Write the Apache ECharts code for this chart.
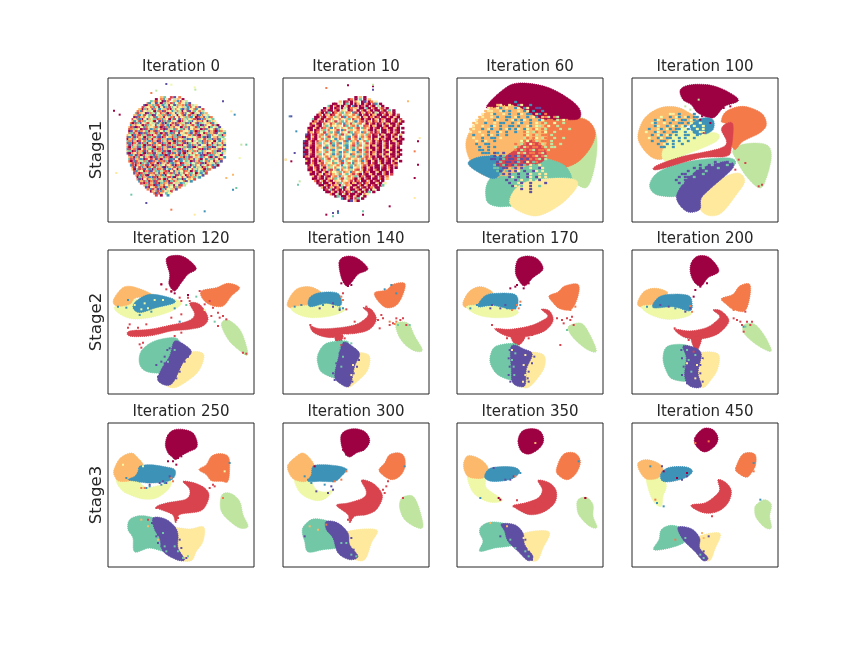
<!DOCTYPE html>
<html><head><meta charset="utf-8">
<style>html,body{margin:0;background:#fff}#c{width:864px;height:648px}</style>
<script src="https://cdn.jsdelivr.net/npm/echarts@6/dist/echarts.min.js"></script></head>
<body><div id="c"></div>
<script>
// Class index order: 0 crimson,1 red,2 orange,3 light orange,4 yellow,5 pale,6 light green,7 teal,8 blue,9 purple
const classColors=['#9e0142','#d8434e','#f57a49','#fdb96b','#fee99d','#eef8a6','#bfe5a0','#72c7a7','#3d92b8','#5e4fa2'];
const panelTitles=['Iteration 0','Iteration 10','Iteration 60','Iteration 100','Iteration 120','Iteration 140','Iteration 170','Iteration 200','Iteration 250','Iteration 300','Iteration 350','Iteration 450'];
const stageLabels=['Stage1','Stage2','Stage3'];

// Blob outlines: [class, x,y, x,y, ...]
const iter0Blobs=[];
const iter10Blobs=[];
const iter60Blobs=[
[6,363,120,413,155,418,235,393,325,353,315,318,285,298,195],
[2,235,135,368,120,413,155,403,205,358,255,298,270,240,240],
[7,88,365,100,300,200,240,320,260,340,340,228,395,168,385,118,385],
[4,158,375,198,315,318,300,363,315,328,365,268,405,218,412],
[3,28,185,68,120,128,80,198,80,260,125,260,215,160,290,78,290,38,245],
[0,88,90,138,35,188,15,278,30,358,80,368,120,318,125,248,120,168,80],
[8,33,255,78,235,148,245,118,300,68,285],
[1,118,255,168,220,228,185,268,225,248,255,168,265,128,265]];
const iter100Blobs=[
[6,303,215,343,197,403,200,418,235,403,300,383,330,343,295,313,245],
[2,268,130,283,100,333,85,388,105,403,140,383,165,333,190,308,215,293,185,283,140],
[0,145,35,178,20,243,23,303,50,318,70,278,85,243,120,198,105,178,80,153,65],
[3,18,170,38,120,83,90,133,87,173,105,198,125,153,155,103,235,63,240,28,205],
[5,93,215,143,150,183,165,253,165,253,190,173,225,103,250],
[8,178,140,213,120,243,125,243,155,213,170,183,165],
[7,53,320,83,280,173,250,293,240,303,265,213,290,143,335,133,355,73,350],
[4,213,355,263,305,318,285,338,310,313,350,268,405,228,412,203,390],
[9,133,355,173,295,223,265,288,250,303,270,243,325,208,360,203,395,163,400],
[1,73,263,153,235,278,205,268,155,283,137,303,140,298,210,283,235,203,240,78,275]];
const iter120Blobs=[
[0,175,26,210,16,240,28,265,56,240,73,220,98,200,123,183,103,185,73],
[5,23,168,85,148,170,143,220,158,190,183,125,203,70,206,30,188],
[3,17,148,50,110,100,118,145,143,85,143,65,163,25,168],
[8,85,153,125,133,185,143,200,158,145,173,95,188,75,173],
[2,280,123,325,113,360,100,395,113,370,138,345,168,310,166,285,148],
[1,245,160,275,163,300,203,285,228,245,238,190,243,135,256,85,260,60,256,65,243,125,238,185,226,240,213,260,193],
[6,340,223,360,210,395,238,415,288,417,316,390,298,360,268],
[7,100,303,140,273,200,263,215,283,205,323,180,365,120,366,95,343],
[4,250,306,287,313,275,358,245,388,200,413,170,400,195,358,210,333],
[9,200,273,235,288,250,308,225,338,190,403,150,393,160,358,185,318]];
const iter140Blobs=[
[0,168,38,185,20,220,23,255,56,225,73,205,98,190,108,175,83],
[3,15,153,40,118,80,110,115,128,90,143,75,173,20,173],
[5,25,173,80,165,130,155,185,178,150,196,90,203,45,193],
[8,80,143,110,128,160,128,175,148,170,168,130,160,80,170],
[2,275,128,310,120,330,103,365,100,360,133,340,166,310,173,285,153],
[1,240,173,265,178,280,208,260,238,220,250,175,253,140,263,95,250,82,228,110,236,170,233,220,223,250,203,255,188],
[1,155,255,180,255,172,280,162,280],
[6,340,220,375,220,395,258,418,300,395,303,365,283,345,253],
[7,105,313,130,280,190,273,195,288,185,328,175,385,120,370,105,343],
[4,215,310,258,316,255,358,230,388,195,412,185,378,200,348],
[9,180,278,210,290,230,313,215,348,200,408,170,400,155,378,165,328]];
const iter170Blobs=[
[0,183,28,213,18,243,28,258,58,228,83,203,108,183,88,175,63],
[3,18,158,38,123,73,110,108,128,83,138,68,168,28,173],
[5,28,170,68,165,128,165,183,183,163,200,108,203,58,193],
[8,83,138,118,130,173,133,183,158,168,178,108,166,63,170],
[2,276,138,303,126,323,108,363,103,363,138,343,178,308,176,288,158],
[1,253,178,278,183,288,213,263,243,218,258,178,263,143,256,113,236,158,238,218,228,253,213,273,198],
[1,163,256,203,258,190,283,173,283],
[6,336,228,373,220,398,253,418,303,393,300,358,273,338,248],
[7,100,318,118,288,180,283,185,323,180,388,128,378,103,348],
[4,205,310,258,313,263,348,243,383,213,413,190,403,192,358],
[9,163,288,203,298,226,313,208,358,203,408,168,400,163,358]];
const iter200Blobs=[
[0,178,38,198,18,233,23,261,63,228,83,208,108,188,98,175,68],
[3,18,153,38,123,73,115,108,128,83,143,63,170,23,170],
[5,28,170,63,165,123,165,178,188,153,203,103,208,53,193],
[8,78,143,113,133,168,136,180,158,173,183,123,170,63,173],
[2,268,146,303,133,323,108,353,103,353,143,338,183,303,178,283,163],
[1,243,180,268,183,291,213,263,248,228,263,188,268,153,260,128,238,173,243,223,233,253,213,263,198],
[1,178,263,208,263,198,298,188,298],
[6,338,223,368,223,398,258,418,303,388,293,353,268,333,243],
[7,93,323,108,288,165,286,180,318,175,388,123,388,103,363],
[4,190,313,256,310,258,353,238,388,210,413,183,368],
[9,153,288,188,293,208,313,198,368,208,410,173,408,158,378,163,323]];
const iter250Blobs=[
[0,180,35,200,20,230,20,255,30,267,55,265,75,245,85,220,98,203,110,190,100,180,90,172,65],
[5,25,170,60,165,85,170,115,193,160,185,190,175,180,200,145,225,105,228,65,215,40,200],
[3,37,105,70,90,90,105,105,125,93,145,75,170,35,175,20,160,18,140],
[8,95,130,125,125,175,132,200,140,200,160,180,175,125,180,85,175,60,170,80,160,90,145],
[2,273,140,295,125,310,100,335,92,360,100,365,130,360,175,340,175,310,173,295,155],
[1,225,175,260,180,290,195,303,215,295,245,275,265,225,272,210,280,203,300,197,280,185,270,145,253,175,240,230,230,245,215,243,195],
[6,345,212,370,212,395,235,405,275,420,310,395,315,360,290,340,265,337,235],
[7,65,290,100,278,150,290,160,320,175,345,175,385,125,375,80,387,75,345,60,320],
[4,195,315,245,318,287,312,285,355,265,385,250,413,215,410,195,375,190,345],
[9,135,285,170,287,200,310,210,335,210,375,230,410,205,410,165,385,155,345,140,320]];
const iter300Blobs=[
[0,175,35,195,20,225,18,250,30,260,55,245,80,220,90,200,102,185,90,175,65],
[5,35,165,75,165,100,200,130,207,153,197,130,225,100,233,65,220,45,200],
[3,15,125,40,100,60,90,80,105,95,130,90,150,70,175,35,170,18,150],
[8,90,130,120,125,170,130,190,140,175,160,155,175,110,175,75,175,85,155],
[2,288,140,305,120,320,95,350,90,365,105,365,135,350,160,325,170,300,157],
[1,235,172,265,178,290,200,298,225,280,260,250,275,215,280,200,300,195,275,160,247,195,240,240,225,250,205],
[6,365,220,390,220,408,255,420,310,400,313,365,290,350,255,353,230],
[7,62,310,90,288,135,295,145,320,165,345,170,372,120,380,75,387,65,355,58,330],
[4,190,327,280,320,265,360,245,410,210,405,185,365],
[9,130,295,165,300,195,330,200,365,225,400,200,410,165,390,150,345,130,320]];
const iter350Blobs=[
[0,183,55,193,27,218,17,248,23,260,50,248,75,218,93,193,85],
[5,33,155,83,160,88,195,136,230,103,238,68,225,43,200],
[3,20,120,33,98,63,105,88,125,93,145,78,165,38,163,23,145],
[8,93,140,118,132,168,132,188,145,173,163,143,173,103,175,83,163],
[2,298,140,318,95,353,90,370,115,358,150,333,170,308,160],
[1,243,172,278,180,298,205,293,240,258,268,218,275,183,260,170,247,203,240,243,225,256,200],
[6,363,230,388,223,408,245,408,280,420,313,398,310,368,280,360,255],
[7,73,310,103,297,150,305,160,335,170,365,113,375,68,385,78,355,68,330],
[4,193,335,243,323,278,330,258,375,240,413,208,405,188,370],
[9,133,303,173,305,198,330,203,365,228,400,213,413,183,385,153,355,143,325]];
const iter450Blobs=[
[0,188,45,213,17,243,20,258,45,248,70,218,87,193,70],
[5,43,155,78,160,103,185,93,220,88,250,68,240,51,205],
[3,18,120,43,110,78,120,93,140,78,165,43,168,23,145],
[8,93,143,118,132,163,132,181,145,163,163,123,175,93,175,85,160],
[2,311,135,333,93,368,93,371,125,358,150,343,163,318,150],
[1,258,170,283,180,298,205,288,240,258,265,218,270,183,255,180,245,218,240,248,220,263,200],
[6,373,245,398,230,418,245,413,280,418,315,398,313,373,285,368,260],
[7,88,320,118,307,155,320,160,355,113,375,65,380,81,350],
[4,188,345,263,330,248,380,233,413,205,405,188,375],
[9,138,313,178,317,203,345,203,375,228,405,213,413,188,385,153,350]];

// Individual points: [class, x,y, x,y, ...] estimated by eye
const iter0Specks=[
[0,18,98,35,110],[2,190,395,130,45],[3,355,300,375,290],[4,260,410,370,100,25,285],[5,260,28,190,20,395,240],
[6,145,38,262,35,400,200],[7,70,350,415,200,385,330],[8,375,335,290,400,380,110],[9,175,18,115,375,345,70]];
const iter10Specks=[
[0,405,190,25,250,195,22,270,25,405,260,395,300,240,410,130,410,320,385],
[2,130,30,395,220],[3,8,245,375,70],[4,395,360,8,245,410,180],[7,240,400,45,320,150,415],[8,20,115,40,160,165,405],[9,25,115,35,225,165,400,270,35,150,405],[6,50,310,270,20]];
const iter60Specks=[];
const iter100Specks=[
[1,380,325,390,320,320,245,340,255,310,275,215,165],
[0,235,135,258,95,275,90,295,85,205,125,210,115],
[6,200,65,160,85,175,95,345,280,360,305]];
const iter120Specks=[
[1,160,103,175,118,190,123,215,143,240,143,245,153,220,153,275,123,305,153,290,163,315,173,330,188,310,198,335,203,345,198,330,228,355,208,220,193,190,203,115,223,90,233,65,223,60,233,85,243,130,248,200,258,220,248,105,278,95,283,100,293,405,308,415,311],
[8,55,173,95,195,60,150,120,150,100,165,130,185,160,165,200,175,135,165,30,170,215,215],
[5,110,160,120,175,100,178,140,150,165,150,80,165,290,180],
[7,150,330,155,300,130,320,235,165,265,140,320,215,200,300,180,335],
[9,170,320,160,335,145,345,185,295,178,300,170,340,160,370,150,380,240,320,230,335,215,365,205,385],
[4,235,345,222,370,205,395],
[0,190,125,160,103,200,130,240,135]];
const iter140Specks=[
[1,180,130,190,178,250,170,215,215,295,195,300,205,285,210,340,205,352,210,360,205,370,225,330,220,290,235,320,225,82,225,160,270,150,260,195,250,185,265,175,285],
[8,35,170,55,165,90,165,120,165,140,155,170,175,180,175,325,105,305,118,340,130],
[9,150,160,170,180,150,170,110,175,172,295,170,310,160,340,150,370,155,390,228,330,222,350,212,370,208,395],
[2,175,140,180,150,335,222,320,215,340,215],
[7,150,310,170,295,155,330,205,280,380,225,345,225,180,320,175,350],
[4,210,345,205,375],
[0,195,108,185,95,205,105,175,100]];
const iter170Specks=[
[1,105,225,150,265,215,265,220,230,225,255,330,205,315,210,320,220,300,205,345,200,340,210,350,225,310,285],
[8,40,175,60,165,95,165,150,175,170,155,175,175,190,165],
[9,105,165,130,175,145,165,100,175,158,300,155,325,158,350,155,375,160,395,232,320,225,340,215,365,212,385,215,395],
[2,185,175,180,165,165,180,190,155,310,170,340,180,355,170],
[7,165,330,150,310,135,320,170,350,145,360,330,240,175,310,172,375],
[0,180,105,200,115,215,100,160,115,175,110],
[4,165,300,200,345,205,315,205,375,198,395]];
const iter200Specks=[
[1,128,235,170,270,185,305,340,185,315,210,325,215,305,205,345,215,330,225,360,215,355,225,335,245],
[8,45,170,75,160,95,165,130,175,165,170,178,170,150,165,335,230],
[9,85,165,110,170,160,185,175,175,148,300,150,325,155,350,150,375,165,400,212,325,205,345,205,370,212,395],
[2,175,168,180,185,305,180,315,175],
[7,130,325,150,340,145,310,165,300,190,315,340,230,170,330,178,365],
[0,190,120,205,110,185,140,225,100,245,65],
[4,165,340,195,345,210,330,190,385]];
const iter250Specks=[
[0,180,115,195,115,210,105,220,100,205,125],
[1,315,185,305,195,320,190,145,255,205,290,210,285,345,225,120,290],
[8,115,195,125,190,160,185,170,180,55,165,95,175,150,175,365,120],
[9,165,175,175,180,155,180,185,160,125,185,145,340,150,360,185,390,132,300,150,335,215,350,220,375,235,405,160,370],
[2,195,175,190,165,110,195,100,195,345,225],
[7,200,370,210,385,225,405,240,400,130,345,170,370,165,330,175,385],
[5,45,125,350,145,105,130],
[3,150,350,100,290,120,310]];
const iter300Specks=[
[1,310,190,300,200,315,175,305,210,200,285,195,290,360,225],
[8,75,170,85,180,65,160,125,185,150,175,190,140,365,130],
[9,100,205,135,210,150,200,145,190,65,340,150,310,190,380,210,400,140,320,160,365,205,345,212,380],
[7,220,400,205,395,175,360,190,360],
[2,190,145,155,175,130,305,175,170],
[0,180,80,190,95,95,130],
[3,105,320,80,310]];
const iter350Specks=[
[1,180,232,170,250,235,250,205,255],
[8,120,135,150,140,70,225,365,115,190,150],
[9,145,170,160,170,170,160,110,135,130,340,150,310,225,410,190,375,150,340,205,350,215,385],
[7,215,400,205,385,160,350,175,375],
[2,175,160,325,160,330,165,100,300,385,225],
[0,125,225,130,230,385,225],
[4,215,380,200,345],
[3,150,310,100,300,235,60]];
const iter450Specks=[
[1,240,280,225,260,195,250],
[8,55,130,150,135,365,120,385,230,95,250,75,240],
[9,135,165,165,160,150,170,90,130,150,320,230,340,215,385],
[7,215,405,205,395,160,345,140,340],
[2,70,230,190,60,230,55,130,350,365,145],
[0,135,165,165,150,95,145],
[3,215,345,210,330]];

// Hand-estimated class mosaics for the mixed clouds; each character is a class, space = empty.
const iter0Mosaic=[
"                     3 7   1 9  2",
"                  0  2 84 1  6 3  0",
"               7 31 5 09 2  53 8 14 6",
"             28 4 9 60 7 3 1 85 2 4 7 9",
"           90 3 7 21 48 6 05 9 73 2 8 1 6 4",
"          1 35 2 86 04 97 1 75 24 36 8 15 2 9",
"        3 07 14 92 48 63 1 06 25 79 38 4 28 5 1",
"       2 815 36 50 72 91 34 86 26 04 19 37 52 6",
"      71 34 09 26 85 13 70 24 96 31 85 20 64 97 3",
"     3 28 61 47 09 53 72 18 34 05 29 61 73 08 24 6",
"     09 13 25 74 18 63 04 62 95 14 37 28 50 13 96 82",
"    14 28 05 93 67 12 83 50 71 59 26 74 31 09 82 65 7",
"    38 61 27 46 30 59 17 28 34 80 16 47 95 23 15 07 34",
"   20 17 94 31 56 28 39 07 41 92 36 18 05 29 76 43 18 5",
"   83 24 40 17 35 96 21 68 03 19 52 74 31 68 09 25 41 70",
"  31 90 15 82 64 31 70 92 83 14 40 72 95 31 86 25 07 46 9",
"  12 73 50 91 38 27 41 09 36 82 57 16 94 23 60 18 35 29 74",
"  09 31 82 47 03 19 25 86 30 17 92 45 38 20 16 74 93 10 82 6",
"  27 13 09 18 26 31 70 29 38 15 04 62 79 31 85 02 73 19 46 8",
" 35 08 21 73 91 04 28 31 96 27 08 35 42 71 90 36 18 25 47 03",
" 18 29 13 60 27 31 89 02 53 17 82 09 34 65 21 79 08 43 16 7",
" 03 17 42 81 93 06 21 73 98 02 14 37 98 05 26 41 37 92 18 56",
" 72 93 01 52 78 13 09 26 13 70 82 91 35 06 47 92 13 50 68 24",
" 18 02 39 17 04 28 31 97 20 31 86 29 07 34 16 82 95 03 74 16",
" 39 16 27 30 81 92 35 01 82 73 91 04 28 17 39 54 02 86 17 39",
" 20 73 18 29 36 10 72 83 19 02 56 37 18 90 25 37 18 09 64 25",
" 81 32 90 41 37 82 01 93 26 78 10 93 57 24 61 08 92 43 71 08",
" 37 01 83 29 15 07 32 81 90 73 28 19 03 72 16 83 45 27 09 36",
" 90 24 13 70 82 19 36 02 79 18 39 20 74 16 58 93 01 27 35 84",
"  18 39 20 16 37 92 78 10 93 42 07 13 86 52 39 01 78 24 60",
"  32 07 15 93 20 81 73 92 10 38 62 07 91 43 68 25 10 79 35 8",
"  71 93 28 01 41 39 20 73 18 95 08 27 13 96 20 48 37 15 02",
"  20 81 36 27 09 13 82 17 09 31 28 47 60 93 17 52 84 03 69",
"   31 92 07 38 12 50 93 61 78 24 01 36 85 72 19 03 46 17",
"   81 03 72 19 30 82 74 14 39 02 18 63 07 25 96 41 38 70",
"    29 41 83 02 61 73 90 83 61 27 50 19 48 36 02 75 19",
"    30 71 29 38 07 12 39 68 14 03 28 95 16 74 30 82",
"     18 35 02 19 37 86 21 04 93 75 12 60 38 47 92",
"     92 01 73 82 16 93 02 71 83 96 14 27 50 38 61",
"      31 82 90 43 17 28 05 36 91 74 02 83 16 59",
"       07 13 28 91 03 67 21 80 35 14 92 37 68",
"       29 05 13 72 81 30 94 26 17 08 53 41",
"        83 17 02 91 36 82 07 13 65 29 48",
"         1 02 93 81 07 23 91 46 38 75",
"           37 12 09 83 15 26 04 91 6",
"            9 04 31 72 08 35 17 2",
"             2 81 39 07 15 63 9",
"               03 71 82 46 1",
"                 29 13  7 5",
"                  1  0   8"];
const iter10Mosaic=[
"                        0 3 0",
"                     02 0 7 0 3",
"                 3 01 0 25 09 02 4",
"              00 4 07 0 03 0 20 18 0",
"            70 20 0 30 80 01 0 20 6 0",
"          0 30 01 06 02 3 00 70 20 31 0",
"         01 00 20 35 01 40 20 30 00 20 7 0",
"        30 07 02 37 23 81 03 02 06 01 03 0",
"       02 03 01 42 63 52 70 10 03 00 20 30 1",
"      00 10 32 73 18 23 42 03 02 01 00 20 30",
"     70 30 21 35 24 37 13 20 10 03 02 00 30 1",
"     02 01 03 61 37 25 38 21 03 02 03 00 20 30",
"    03 00 24 13 72 83 16 32 40 20 01 03 00 20",
"    10 20 37 25 34 17 32 85 12 03 00 20 30 1",
"   00 30 12 38 26 35 27 31 72 30 10 02 00 30 0",
"   20 01 37 24 31 82 63 42 53 10 03 00 20 10",
"   03 02 51 37 28 35 17 23 82 61 02 00 30 20 0",
"  90 10 32 83 42 71 35 82 43 72 01 03 00 20 3",
"  00 30 26 31 73 25 78 31 62 31 00 30 10 03 0",
"  30 10 42 73 58 23 71 42 83 52 03 02 00 30 10",
" 90 20 13 62 83 74 28 73 15 27 30 20 10 03 00",
" 00 30 27 35 17 28 37 52 83 41 20 10 30 00 20",
" 90 10 32 47 38 25 78 31 72 63 03 00 20 30 1",
" 03 00 23 81 63 72 48 37 25 31 00 20 30 10 0",
" 90 20 15 37 28 35 72 68 31 72 30 10 03 00 20",
" 00 30 23 62 47 38 27 53 82 31 02 00 10 30 0",
" 90 10 37 25 38 27 34 82 63 72 03 02 03 00 20",
" 02 00 13 42 73 68 25 37 28 31 20 00 30 10 0",
"  00 30 27 31 52 83 72 43 62 13 01 00 20 30",
"  30 10 02 63 74 28 35 72 38 20 30 20 10 03 0",
"  00 20 31 35 27 31 62 83 42 30 10 30 00 20",
"   03 00 12 73 42 85 37 26 31 02 00 30 10 2",
"   10 20 30 36 25 37 28 43 20 30 00 10 20 0",
"   00 30 02 71 38 24 36 21 30 10 20 00 30",
"    20 10 30 25 37 23 82 53 02 00 30 20 0",
"    00 03 02 13 62 47 31 20 10 30 00 20 1",
"     30 20 10 32 83 52 37 02 00 30 10 2",
"     00 10 03 27 31 63 20 30 10 00 20 3",
"      20 30 20 34 25 31 02 00 30 10 0",
"       01 00 30 27 32 03 01 02 00 30 5",
"        00 20 13 06 23 00 20 30 10 07",
"         30 03 02 70 40 30 10 02 00",
"          01 70 20 03 00 20 30 05 0",
"           00 30 01 02 70 30 07 0",
"             20 60 30 00 10 24",
"               07 00 20 30 50",
"                  80 30 17 0",
"                     09 30"];
// Overlays on top of the blobs, one character per coarser cell.
const iter60Overlay=[
"","","","","","",
"            00 0  0",
"           0 00 0 00",
"          00 0 0 08 00",
"            34 04 084 08 0",
"         43 48 43 84 84 099",
"        3443 48 8 34 84 80 8",
"       43 48 34 83 84 88 38 2",
"      34 34 83 88 48 38 48 326 26",
"     43 43 84 38 48 84 83 85 22 6252",
"    34 38 34 88 38 48 38 5 26 25 26 2",
"    43 43 84 83 88 83 48 56 25 26 22 2",
"   34 38 48 38 48 84 85 25 26 22 62 6",
"   43 43 83 84 83 8  25 62 25 26 22",
"   38 34 84 83 8     25 26 22 62 2",
"    43 83 88 4       62 25 62 26 26",
"    34 84 38        525 26 22 62 2",
"     83 88 3      2 62 52 26 26 26",
"     38 38 8      62 62 22 26 66",
"      88 83       2 62 26 22 62",
"       888 98 9    626 22 26 2",
"          89 97 9 97 92 26 26",
"          99 97 99 79 92 26 6",
"            97 99 97 94 72",
"           79 79 97 97 47 4",
"           77 99 79 97 47 94",
"            79 79 94 97 94 47",
"             79 97 97 94 74 4",
"             77 94 97 94 94 4",
"              79 79 47 47 94",
"                97 49 49 44 9",
"                 94 74 94 7",
"                   49 49 4",
"                     4 9"];
const iter100Overlay=[
"","","","","","","","","","","","",
"           54 8    8",
"        5 38 58 48 88",
"      85 83 85 88 58 8",
"     58 35 83 88 85 85",
"    3 85 38 58 58 85 85",
"    83 58 58 88 58 85 58",
"   53 85 83 88 58 58 55",
"    38 58 58 85 88 58 5",
"    53 85 88 58 85 85",
"     83 88 58 85 85",
"      38 58 85 8",
"        88 58",
"","","","",
"                          97  97",
"                     97 97 99 7",
"                  79 97 99 7",
"                 97 99 79 9",
"               99 79 97 9",
"             79 99 79 9",
"             97 99 9",
"              97",
"","",""];

const mosaics=[
 {rows:iter0Mosaic,x0:55,y0:58,cellX:5,cellY:6,mark:[2.9,2.5]},
 {rows:iter10Mosaic,x0:58,y0:58,cellX:6.7,cellY:6.6,mark:[3.3,2.6]},
 {rows:iter60Overlay,x0:14,y0:0,cellX:9,cellY:9,mark:[3,2.3]},
 {rows:iter100Overlay,x0:16,y0:0,cellX:9,cellY:9,mark:[3,2.3]}];

const panelBlobs=[iter0Blobs,iter10Blobs,iter60Blobs,iter100Blobs,iter120Blobs,iter140Blobs,iter170Blobs,iter200Blobs,iter250Blobs,iter300Blobs,iter350Blobs,iter450Blobs];
const panelSpecks=[iter0Specks,iter10Specks,iter60Specks,iter100Specks,iter120Specks,iter140Specks,iter170Specks,iter200Specks,iter250Specks,iter300Specks,iter350Specks,iter450Specks];

// Closed Catmull-Rom path so outlines pass through the read vertices
function smoothClosed(p){
  const out=[],n=p.length;
  for(let i=0;i<n;i++){
    const a=p[(i+n-1)%n],b=p[i],c=p[(i+1)%n],d=p[(i+2)%n];
    for(let t=0;t<1;t+=0.2){
      const t2=t*t,t3=t2*t;
      out.push([0,1].map(k=>0.5*(2*b[k]+(c[k]-a[k])*t+(2*a[k]-5*b[k]+4*c[k]-d[k])*t2+(3*b[k]-a[k]-3*c[k]+d[k])*t3)));
    }
  }
  return out;
}

const colLeft=[108,283,457,632], rowTop=[78,250,423];
const grid=[],xAxis=[],yAxis=[],series=[],title=[];
panelTitles.forEach((t,i)=>{
  const col=i%4,row=Math.floor(i/4);
  grid.push({left:colLeft[col],top:rowTop[row],width:146,height:144,show:true,borderColor:'#262626',borderWidth:1,backgroundColor:'#fff'});
  xAxis.push({gridIndex:i,type:'value',min:0,max:438,show:false});
  yAxis.push({gridIndex:i,type:'value',min:0,max:432,inverse:true,
    axisLine:{show:false},axisTick:{show:false},axisLabel:{show:false},splitLine:{show:false},
    name:col===0?stageLabels[row]:'',nameLocation:'middle',nameGap:3,nameRotate:90,
    nameTextStyle:{fontFamily:'DejaVu Sans',fontSize:16.6,color:'#262626'}});
  title.push({text:t,left:colLeft[col]+73,top:rowTop[row]-18,padding:0,textAlign:'center',
    textStyle:{fontFamily:'DejaVu Sans',fontSize:15,fontWeight:'normal',color:'#262626'}});
  const blobs=panelBlobs[i];
  series.push({type:'custom',xAxisIndex:i,yAxisIndex:i,coordinateSystem:'cartesian2d',silent:true,animation:false,
    data:blobs.map((b,k)=>[k,0]),
    renderItem:(p,api)=>{
      const b=blobs[p.dataIndex];const pts=[];
      for(let j=1;j<b.length;j+=2)pts.push(api.coord([b[j],b[j+1]]));
      return {type:'polygon',shape:{points:smoothClosed(pts)},
        style:{fill:classColors[b[0]],stroke:classColors[b[0]],lineWidth:1,lineDash:[1,1]}};
    }});
  const m=mosaics[i];
  if(m){
    const cells=[];
    m.rows.forEach((r,y)=>{[...r].forEach((ch,x)=>{if(ch!==' ')cells.push([m.x0+x*m.cellX,m.y0+y*m.cellY,+ch]);});});
    series.push({type:'scatter',xAxisIndex:i,yAxisIndex:i,silent:true,animation:false,symbol:'rect',
      symbolSize:m.mark,data:cells,itemStyle:{opacity:1,color:p=>classColors[p.data[2]]}});
  }
  const pts=[];
  panelSpecks[i].forEach(s=>{for(let j=1;j<s.length;j+=2)pts.push([s[j],s[j+1],s[0]]);});
  series.push({type:'scatter',xAxisIndex:i,yAxisIndex:i,silent:true,animation:false,symbol:'rect',
    symbolSize:2,data:pts,itemStyle:{opacity:1,color:p=>classColors[p.data[2]]}});
});
echarts.init(document.getElementById('c')).setOption({animation:false,backgroundColor:'#fff',title,grid,xAxis,yAxis,series});
</script></body></html>
